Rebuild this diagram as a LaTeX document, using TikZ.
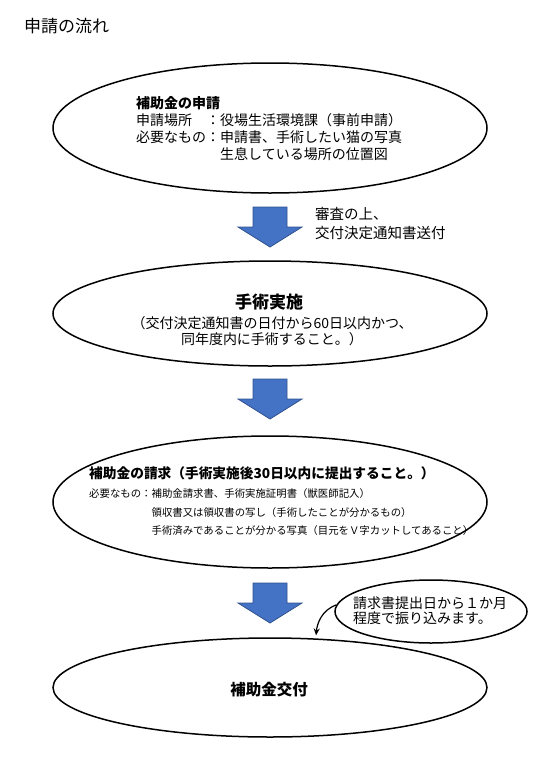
\documentclass[tikz,border=0pt]{standalone}
\usepackage{fontspec}
\setmainfont{Noto Sans CJK JP}
\usepackage{tikz}
\usetikzlibrary{shapes.geometric, arrows.meta}
\usepackage{xcolor}
\definecolor{arrowblue}{HTML}{4472C4}
\definecolor{arrowedge}{HTML}{2F528F}

\begin{document}
\begin{tikzpicture}[x=1pt, y=-1pt,
    flowbox/.style={ellipse, draw, line width=1.5pt, minimum width=434pt},
    notebox/.style={ellipse, draw, line width=1.5pt, minimum width=192pt, minimum height=63pt},
    downarrow/.style={fill=arrowblue, draw=arrowedge, line width=0.8pt},
    txt/.style={inner sep=0pt, align=left}]

    \useasboundingbox (0,0) rectangle (540,780);

    % Title
    \node[txt, anchor=west, font=\fontsize{17}{20}\selectfont] (title) at (24,26) {申請の流れ};

    % The steps
    \node[flowbox, minimum height=130pt] (apply) at (270,128) {};
    \node[flowbox, minimum height=105pt] (surgery) at (270,313.5) {};
    \node[flowbox, minimum height=132pt] (claim) at (270,502) {};
    \node[flowbox, minimum height=99pt] (grant) at (270,687.5) {};
    \node[notebox] (note) at (431,611.5) {};

    % Texts of the steps
    \node[txt, anchor=west, font=\fontsize{14}{17}\selectfont] (apply-text) at (136,128.5)
        {\textbf{補助金の申請}\\
         申請場所　：役場生活環境課（事前申請）\\
         必要なもの：申請書、手術したい猫の写真\\
         　　　　　　生息している場所の位置図};
    \node[txt, font=\bfseries\fontsize{17}{20}\selectfont] (surgery-title) at (269,302.5) {手術実施};
    \node[txt, align=center, font=\fontsize{14}{16.5}\selectfont] (surgery-text) at (272,331)
        {（交付決定通知書の日付から60日以内かつ、\\同年度内に手術すること。）};
    \node[txt, anchor=west, font=\bfseries\fontsize{13.7}{16}\selectfont] (claim-title) at (89,473)
        {補助金の請求（手術実施後30日以内に提出すること。）};
    \node[txt, anchor=west, font=\fontsize{10.4}{18.5}\selectfont] (claim-text) at (89,512.5)
        {必要なもの：補助金請求書、手術実施証明書（獣医師記入）\\
         　　　　　　領収書又は領収書の写し（手術したことが分かるもの）\\
         　　　　　　手術済みであることが分かる写真（目元をＶ字カットしてあること）};
    \node[txt, font=\bfseries\fontsize{15.5}{18}\selectfont] (grant-text) at (269,690) {補助金交付};
    \node[txt, anchor=west, font=\fontsize{14}{14.5}\selectfont] (note-text) at (353,610.5)
        {請求書提出日から１か月\\程度で振り込みます。};

    % Block arrows between the steps
    \foreach \ay in {207,379,583} {
        \draw[downarrow] (253,\ay) -- (287,\ay) -- (287,{\ay+20}) -- (302,{\ay+20})
            -- (270,{\ay+40}) -- (238,{\ay+20}) -- (253,{\ay+20}) -- cycle;
    }
    \node[txt, anchor=west, font=\fontsize{14.5}{19}\selectfont] (review) at (315,223.5)
        {審査の上、\\交付決定通知書送付};

    % Note pointing at the last step
    \draw[line width=1.2pt, -{Stealth[length=7pt, width=6pt]}, shorten >=3pt]
        (note.176) to[out=200, in=85] (grant.47);

\end{tikzpicture}
\end{document}
